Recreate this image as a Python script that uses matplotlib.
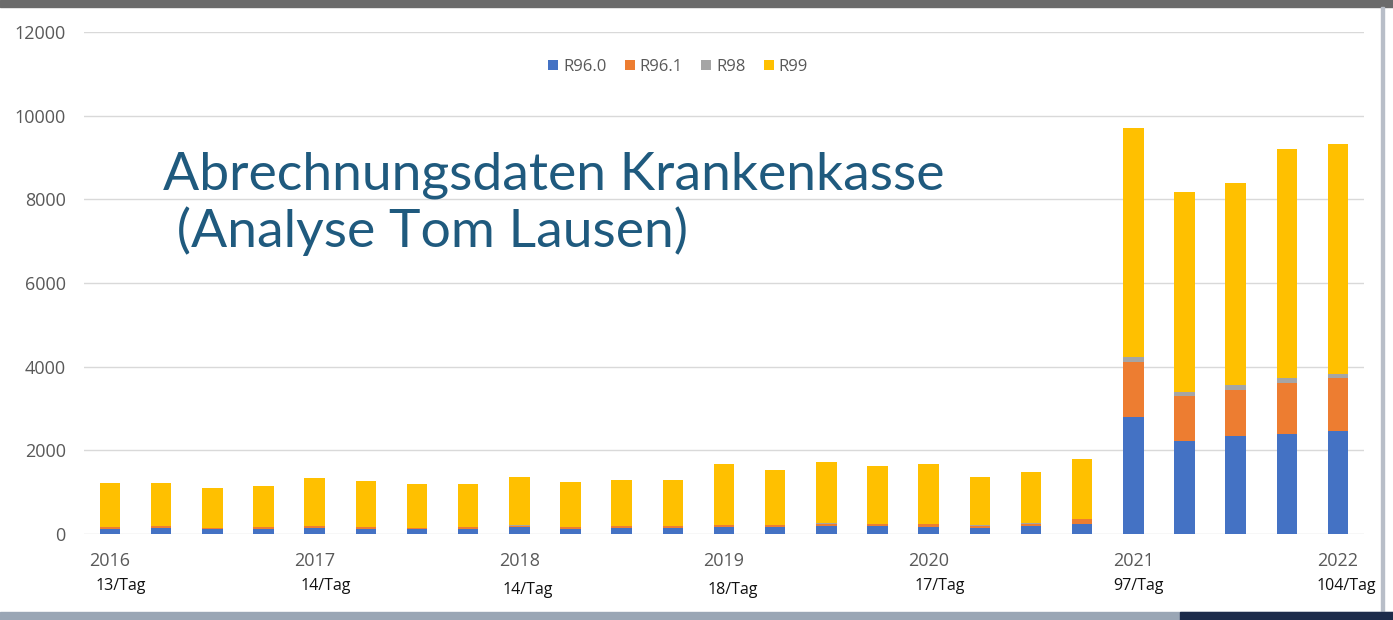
import numpy as np
import matplotlib
matplotlib.use('Agg')
import matplotlib.pyplot as plt
from matplotlib.patches import Rectangle

DPI = 100
matplotlib.rcParams.update({
    'font.family': ['Open Sans', 'DejaVu Sans'],
    'figure.dpi': DPI,
})

# quarterly billing data 2016 Q1 .. 2022 Q1
years = ['2016', '2017', '2018', '2019', '2020', '2021', '2022']
year_pos = [0, 4, 8, 12, 16, 20, 24]
per_day = ['13/Tag', '14/Tag', '14/Tag', '18/Tag', '17/Tag', '97/Tag', '104/Tag']

r96_0 = [120, 150, 120, 130, 150, 120, 120, 130, 160, 130, 150, 140,
         160, 170, 180, 180, 170, 150, 190, 240,
         2790, 2225, 2350, 2385, 2470]
r96_1 = [40, 40, 30, 40, 40, 40, 30, 30, 40, 30, 40, 40,
         60, 50, 70, 60, 60, 50, 60, 110,
         1310, 1075, 1095, 1220, 1255]
r98 = [5, 5, 5, 5, 5, 5, 5, 5, 5, 5, 5, 5,
       5, 5, 5, 5, 5, 5, 5, 5,
       140, 105, 120, 120, 105]
r99 = [1055, 1025, 955, 975, 1145, 1095, 1045, 1035, 1165, 1075, 1095, 1115,
       1450, 1305, 1460, 1390, 1440, 1150, 1225, 1445,
       5460, 4760, 4825, 5475, 5490]

series = [('R96.0', r96_0, '#4472C4'),
          ('R96.1', r96_1, '#ED7D31'),
          ('R98', r98, '#A5A5A5'),
          ('R99', r99, '#FFC000')]

W, H = 1393, 620
fig = plt.figure(figsize=(W / DPI, H / DPI), facecolor='white')
ax = fig.add_axes([84.4 / W, 86 / H, 1279.2 / W, 502 / H])

x = np.arange(len(r99))
bottom = np.zeros(len(x))
for name, vals, col in series:
    ax.bar(x, vals, width=0.4, bottom=bottom, color=col, label=name, zorder=3)
    bottom += np.array(vals)

ax.set_xlim(-0.5, 24.5)
ax.set_ylim(0, 12000)
ax.set_yticks(np.arange(0, 12001, 2000))
ax.grid(axis='y', color='#d9d9d9', linewidth=1, zorder=0)
for s in ax.spines.values():
    s.set_visible(False)
ax.tick_params(axis='y', length=0, pad=13.5, labelsize=13, labelcolor='#595959')
ax.set_xticks(year_pos)
ax.set_xticklabels(years)
ax.tick_params(axis='x', length=0, pad=13, labelsize=13, labelcolor='#595959')

# per-day labels below the years
dx = [11, 11, 8, 9, 11, 5, 8]
dy = [52, 52, 56, 56, 52, 52, 52]
for p, lab, ox, oy in zip(year_pos, per_day, dx, dy):
    ax.annotate(lab, xy=(p, 0), xycoords=('data', 'axes fraction'),
                xytext=(ox * 0.72, -oy * 0.72), textcoords='offset points',
                ha='center', va='center', fontsize=11.5, color='#111111')

ax.legend(loc='center', bbox_to_anchor=(678 / W, 1 - 67 / H),
          bbox_transform=fig.transFigure, ncol=4, frameon=False,
          fontsize=12, handlelength=0.6, handleheight=0.6,
          handletextpad=0.3, columnspacing=1.1, labelcolor='#595959')

title_col = '#1f5a7e'
fig.text(163 / W, 1 - 190 / H, 'Abrechnungsdaten Krankenkasse',
         fontsize=38.5, color=title_col, family=['Lato', 'DejaVu Sans'],
         ha='left', va='baseline')
fig.text(163 / W, 1 - 247 / H, ' (Analyse Tom Lausen)',
         fontsize=38.5, color=title_col, family=['Lato', 'DejaVu Sans'],
         ha='left', va='baseline')

# screenshot frame
fig.patches.append(Rectangle((0, 1 - 7 / H), 1, 7 / H, transform=fig.transFigure,
                             color='#6b6b6b', zorder=0))
fig.patches.append(Rectangle((0, 0), 1, 8 / H, transform=fig.transFigure,
                             color='#9aa6b5', zorder=0))
fig.patches.append(Rectangle((1180 / W, 0), 213 / W, 8 / H, transform=fig.transFigure,
                             color='#1c2b4a', zorder=1))
fig.patches.append(Rectangle((1381 / W, 8 / H), 3 / W, 605 / H, transform=fig.transFigure,
                             color='#b8bec8', zorder=0))

fig.savefig('out.png', dpi=DPI, facecolor='white')
